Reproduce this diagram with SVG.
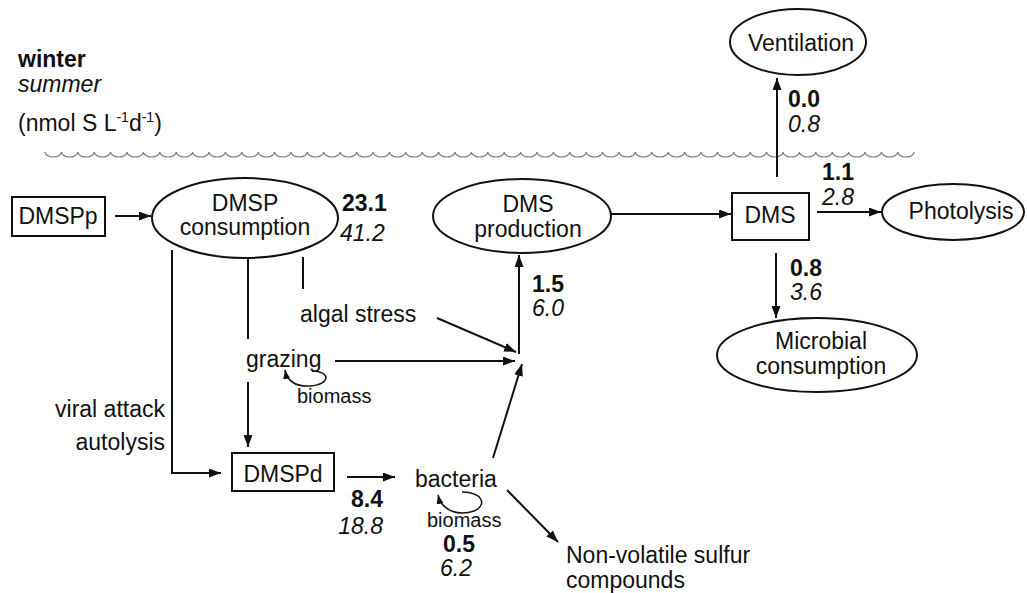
<svg xmlns="http://www.w3.org/2000/svg" width="1027" height="593" viewBox="0 0 1027 593">
<style>
text{font-family:"Liberation Sans",Arial,sans-serif;font-size:23px;fill:#111}
.b{font-weight:bold}
.i{font-style:italic}
.s{font-size:20px}
.c{text-anchor:middle}
.e{text-anchor:end}
.ln{fill:none;stroke:#111;stroke-width:2}
.lp{fill:none;stroke:#111;stroke-width:1.5}
.nd{fill:#fff;stroke:#111;stroke-width:2}
.wave{fill:none;stroke:#777;stroke-width:1.2}
</style>
<defs>
<marker id="ah" markerUnits="userSpaceOnUse" markerWidth="13" markerHeight="10" refX="12" refY="4.5" orient="auto"><path d="M0,0 L12,4.5 L0,9 z" fill="#111"/></marker>
<marker id="ahs" markerUnits="userSpaceOnUse" markerWidth="10" markerHeight="8" refX="9" refY="3.5" orient="auto"><path d="M0,0 L9,3.5 L0,7 z" fill="#111"/></marker>
</defs>
<rect width="1027" height="593" fill="#fff"/>
<g id="legend">
<text x="18" y="67" class="b">winter</text>
<text x="18" y="92" class="i">summer</text>
<text x="18" y="131">(nmol S L<tspan font-size="14" dy="-9">-1</tspan><tspan dy="9">d</tspan><tspan font-size="14" dy="-9">-1</tspan><tspan dy="9">)</tspan></text>
</g>
<path id="surface" class="wave" d="M45,152 a8.2 5 0 0 0 16.4 0 a8.2 5 0 0 0 16.4 0 a8.2 5 0 0 0 16.4 0 a8.2 5 0 0 0 16.4 0 a8.2 5 0 0 0 16.4 0 a8.2 5 0 0 0 16.4 0 a8.2 5 0 0 0 16.4 0 a8.2 5 0 0 0 16.4 0 a8.2 5 0 0 0 16.4 0 a8.2 5 0 0 0 16.4 0 a8.2 5 0 0 0 16.4 0 a8.2 5 0 0 0 16.4 0 a8.2 5 0 0 0 16.4 0 a8.2 5 0 0 0 16.4 0 a8.2 5 0 0 0 16.4 0 a8.2 5 0 0 0 16.4 0 a8.2 5 0 0 0 16.4 0 a8.2 5 0 0 0 16.4 0 a8.2 5 0 0 0 16.4 0 a8.2 5 0 0 0 16.4 0 a8.2 5 0 0 0 16.4 0 a8.2 5 0 0 0 16.4 0 a8.2 5 0 0 0 16.4 0 a8.2 5 0 0 0 16.4 0 a8.2 5 0 0 0 16.4 0 a8.2 5 0 0 0 16.4 0 a8.2 5 0 0 0 16.4 0 a8.2 5 0 0 0 16.4 0 a8.2 5 0 0 0 16.4 0 a8.2 5 0 0 0 16.4 0 a8.2 5 0 0 0 16.4 0 a8.2 5 0 0 0 16.4 0 a8.2 5 0 0 0 16.4 0 a8.2 5 0 0 0 16.4 0 a8.2 5 0 0 0 16.4 0 a8.2 5 0 0 0 16.4 0 a8.2 5 0 0 0 16.4 0 a8.2 5 0 0 0 16.4 0 a8.2 5 0 0 0 16.4 0 a8.2 5 0 0 0 16.4 0 a8.2 5 0 0 0 16.4 0 a8.2 5 0 0 0 16.4 0 a8.2 5 0 0 0 16.4 0 a8.2 5 0 0 0 16.4 0 a8.2 5 0 0 0 16.4 0 a8.2 5 0 0 0 16.4 0 a8.2 5 0 0 0 16.4 0 a8.2 5 0 0 0 16.4 0 a8.2 5 0 0 0 16.4 0 a8.2 5 0 0 0 16.4 0 a8.2 5 0 0 0 16.4 0 a8.2 5 0 0 0 16.4 0 a8.2 5 0 0 0 16.4 0"/>
<g id="connectors">
<path class="ln" d="M115,216 L151,216" marker-end="url(#ah)"/>
<path class="ln" d="M172,250 L172,473 L221,473" marker-end="url(#ah)"/>
<path class="ln" d="M248,259 L248,339"/>
<path class="ln" d="M248,382 L248,447" marker-end="url(#ah)"/>
<path class="ln" d="M303,257 L303,289"/>
<path class="ln" d="M437,318 L516,352" marker-end="url(#ah)"/>
<path class="ln" d="M335,361 L515,361" marker-end="url(#ah)"/>
<path class="ln" d="M493,458 L522,364" marker-end="url(#ah)"/>
<path class="ln" d="M519,354 L519,255" marker-end="url(#ah)"/>
<path class="ln" d="M611,214 L731,214" marker-end="url(#ah)"/>
<path class="ln" d="M777,177 L777,78" marker-end="url(#ah)"/>
<path class="ln" d="M817,212 L881,212" marker-end="url(#ah)"/>
<path class="ln" d="M776,253 L776,318" marker-end="url(#ah)"/>
<path class="ln" d="M347,477 L395,477" marker-end="url(#ah)"/>
<path class="ln" d="M507,490 L558,542" marker-end="url(#ah)"/>
<path class="lp" d="M312,371 C330,371 332,384 310,386 C296,387 287,381 285,370" marker-end="url(#ahs)"/>
<path class="lp" d="M462,492 C482,492 488,505 474,511 C460,516 442,512 438,495" marker-end="url(#ahs)"/>
</g>
<g id="DMSPp"><rect class="nd" x="12" y="197" width="93" height="39"/><text x="58" y="224" class="c">DMSPp</text></g>
<g id="DMSP-consumption"><ellipse class="nd" cx="245" cy="218" rx="93" ry="40"/><text x="245" y="211" class="c">DMSP</text><text x="245" y="235" class="c">consumption</text></g>
<g id="DMS-production"><ellipse class="nd" cx="522" cy="216" rx="89" ry="37"/><text x="528" y="212" class="c">DMS</text><text x="528" y="237" class="c">production</text></g>
<g id="DMS"><rect class="nd" x="732" y="193" width="77" height="47"/><text x="770" y="223" class="c">DMS</text></g>
<g id="Ventilation"><ellipse class="nd" cx="798" cy="42" rx="68" ry="33"/><text x="801" y="51" class="c">Ventilation</text></g>
<g id="Photolysis"><ellipse class="nd" cx="953" cy="212" rx="71" ry="28"/><text x="961" y="219" class="c">Photolysis</text></g>
<g id="Microbial-consumption"><ellipse class="nd" cx="817" cy="355" rx="100" ry="37"/><text x="821" y="349" class="c">Microbial</text><text x="821" y="374" class="c">consumption</text></g>
<g id="DMSPd"><rect class="nd" x="232" y="453" width="102" height="38"/><text x="283" y="482" class="c">DMSPd</text></g>
<g id="grazing"><text x="246" y="367">grazing</text><text x="297" y="403" class="s">biomass</text></g>
<g id="bacteria"><text x="415" y="487">bacteria</text><text x="427" y="527" class="s">biomass</text></g>
<g id="algal-stress"><text x="300" y="322">algal stress</text></g>
<g id="viral"><text x="165" y="417" class="e">viral attack</text><text x="165" y="450" class="e">autolysis</text></g>
<g id="nonvolatile"><text x="566" y="563">Non-volatile sulfur</text><text x="566" y="588">compounds</text></g>
<g id="values">
<text x="342" y="211" class="b">23.1</text><text x="340" y="241" class="i">41.2</text>
<text x="532" y="292" class="b">1.5</text><text x="532" y="316" class="i">6.0</text>
<text x="788" y="107" class="b">0.0</text><text x="788" y="132" class="i">0.8</text>
<text x="822" y="180" class="b">1.1</text><text x="822" y="205" class="i">2.8</text>
<text x="790" y="276" class="b">0.8</text><text x="790" y="300" class="i">3.6</text>
<text x="383" y="507" class="b e">8.4</text><text x="383" y="534" class="i e">18.8</text>
<text x="443" y="552" class="b">0.5</text><text x="440" y="576" class="i">6.2</text>
</g>
</svg>
